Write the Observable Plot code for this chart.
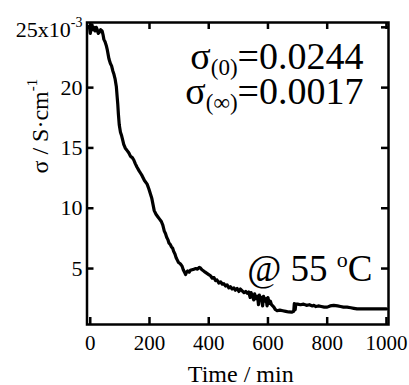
<!DOCTYPE html>
<html><head><meta charset="utf-8">
<script src="https://cdn.jsdelivr.net/npm/d3@7"></script>
<script src="https://cdn.jsdelivr.net/npm/@observablehq/plot@0.6"></script>
<style>
body{margin:0;background:#fff}
#wrap{position:relative;width:409px;height:385px;overflow:hidden}
#topline{position:absolute;left:0;top:4.5px;width:404px;height:3px;background:#000}
#chart{position:absolute;left:0;top:0}
</style>
</head><body><div id="wrap"><div id="topline"></div><div id="chart"></div></div>
<script>
// time in min
const time = [-3,0,3,6,9,12,16,20,23,27,31,35,40,43,46,50,54,57,60,63,68,72,76,80,84,88,91,93,95,98,102,106,110,113,118,124,130,136,142,147,152,158,165,170,175,183,192,198,203,208,212,216,222,228,234,240,245,250,254,258,262,266,270,274,278,282,286,290,294,298,304,310,314,318,322,325,329,334,338,344,350,356,362,368,372,377,383,388,394,400,406,412,418,423,428,434,440,446,451,457,462,468,473,479,485,490,496,502,507,513,519,525,530,535,540,543,548,552,555,560,565,568,571,575,578,582,585,590,594,597,600,604,608,612,616,620,625,631,640,650,660,670,680,687,689,692,694,700,710,720,730,740,750,755,762,770,780,790,800,810,822,835,845,855,867,880,890,901,920,940,960,980,1000];
// conductivity in 10^-3 S/cm
const sigma = [25.1,24.5,24.9,25.2,24.8,25.0,24.7,25.0,24.85,24.5,24.6,24.8,24.7,24.4,24.0,23.8,23.5,23.2,22.8,22.4,22.0,21.8,21.4,21.1,20.7,20.1,19.2,18.6,17.8,16.9,16.3,16.0,15.6,15.3,15.0,14.8,14.6,14.3,14.2,14.0,13.7,13.4,13.1,12.9,12.7,12.3,12.0,11.6,11.2,10.8,10.3,9.8,9.5,9.3,9.1,8.9,8.6,8.1,7.9,7.6,7.4,7.1,7.0,6.8,6.7,6.4,6.2,5.9,5.7,5.5,5.4,5.2,4.9,4.7,4.5,4.7,4.8,4.7,4.85,4.9,4.95,5.0,4.95,5.1,5.05,4.9,4.8,4.7,4.6,4.5,4.4,4.2,4.25,4.0,4.05,3.8,3.9,3.7,3.75,3.55,3.65,3.4,3.5,3.3,3.4,3.2,3.35,3.1,3.3,3.15,3.0,3.1,2.95,3.05,2.6,3.0,2.7,2.4,2.9,2.5,2.7,2.0,2.8,2.4,2.6,1.9,2.7,2.3,2.5,1.9,2.6,2.1,2.3,2.0,1.9,1.8,1.6,1.5,1.55,1.5,1.45,1.4,1.38,1.45,2.1,1.6,2.05,2.05,2.0,2.05,1.95,2.0,1.9,1.95,1.85,1.9,1.85,1.8,1.8,1.9,1.95,1.9,1.85,1.8,1.8,1.75,1.7,1.65,1.65,1.65,1.65,1.65,1.65];
const xTicks = [0,200,400,600,800,1000];
const yTicks = [5,10,15,20,25];
const xLabel = "Time / min";
const yLabel = ["σ / S·cm", "-1"];
const note1 = ["σ", "(0)", "=0.0244"];
const note2 = ["σ", "(∞)", "=0.0017"];
const note3 = ["@ 55 ", "o", "C"];

const data = time.map((t, i) => ({t, v: sigma[i]}));
const FW = 409 - 86.5 - 21, FH = 385 - 22 - 61, TL = 7;

const chart = Plot.plot({
  width: 409, height: 385,
  marginLeft: 86.5, marginRight: 21, marginTop: 22, marginBottom: 61,
  style: {fontFamily: "Liberation Serif", fontSize: "21px", background: "#fff", color: "#000", overflow: "visible"},
  x: {domain: [-11, 1007]},
  y: {domain: [0.36, 25.4]},
  marks: [
    Plot.axisX({ticks: xTicks, anchor: "bottom", tickSize: 0, tickPadding: 11, label: null, fontSize: 21, tickFormat: d => String(d)}),
    Plot.axisY({ticks: yTicks, anchor: "left", tickSize: 0, tickPadding: 4.5, label: null, fontSize: 22,
      tickFormat: d => d === 25 ? "25x10" : String(d)}),
    Plot.ruleY(yTicks, {insetRight: FW - TL, stroke: "#000", strokeWidth: 2.5}),
    Plot.ruleY(yTicks, {insetLeft: FW - TL, stroke: "#000", strokeWidth: 2.5}),
    Plot.ruleX(xTicks, {insetTop: FH - TL, stroke: "#000", strokeWidth: 2.5}),
    Plot.ruleX(xTicks, {insetBottom: FH - TL, stroke: "#000", strokeWidth: 2.5}),
    Plot.line(data, {x: "t", y: "v", stroke: "#000", strokeWidth: 3.2, strokeLinejoin: "round"}),
    Plot.frame({stroke: "#000", strokeWidth: 2.5}),
    Plot.text([xLabel], {frameAnchor: "bottom", dx: 3, dy: 57, lineAnchor: "bottom", fontSize: 24}),
    Plot.text([yLabel.join("")], {frameAnchor: "left", rotate: -90, dx: -39.5, lineAnchor: "bottom", fontSize: 24}),
    Plot.text([note1.join("")], {frameAnchor: "top-right", textAnchor: "end", dx: -25, dy: 46, lineAnchor: "bottom", fontSize: 38}),
    Plot.text([note2.join("")], {frameAnchor: "top-right", textAnchor: "end", dx: -25, dy: 81, lineAnchor: "bottom", fontSize: 38}),
    Plot.text([note3.join("")], {frameAnchor: "bottom-right", textAnchor: "end", dx: -16, dy: -44, lineAnchor: "bottom", fontSize: 37})
  ]
});
document.getElementById("chart").appendChild(chart);

function rich(content, parts) {
  d3.select(chart).selectAll("text").filter(function() { return this.textContent === content; })
    .each(function() {
      const s = d3.select(this); s.text(null);
      parts.forEach(p => {
        const ts = s.append("tspan").text(p.t);
        if (p.fs) ts.attr("font-size", p.fs);
        if (p.dy) ts.attr("dy", p.dy);
      });
    });
}
rich("25x10", [{t: "25x10", dy: 3}, {t: "-3", fs: 14, dy: -10}]);
rich(yLabel.join(""), [{t: yLabel[0]}, {t: yLabel[1], fs: 15, dy: -11}]);
rich(note1.join(""), [{t: note1[0]}, {t: note1[1], fs: 23, dy: 6}, {t: note1[2], dy: -6}]);
rich(note2.join(""), [{t: note2[0]}, {t: note2[1], fs: 23, dy: 6}, {t: note2[2], dy: -6}]);
rich(note3.join(""), [{t: note3[0]}, {t: note3[1], fs: 22, dy: -14}, {t: note3[2], dy: 14}]);
</script>
</body></html>
